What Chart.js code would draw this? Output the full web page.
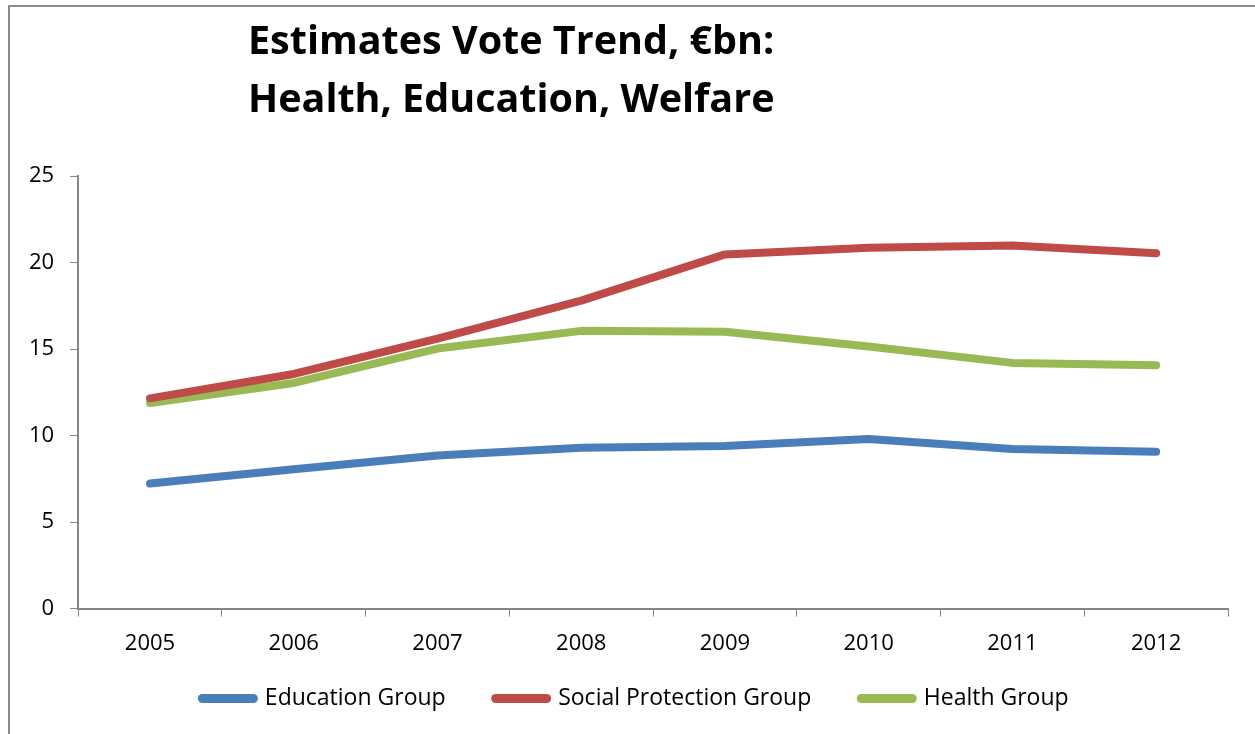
<!DOCTYPE html>
<html>
<head>
<meta charset="utf-8">
<script src="https://cdn.jsdelivr.net/npm/chart.js@4/dist/chart.umd.min.js"></script>
<style>
  html, body { margin: 0; padding: 0; background: #fff; }
  #wrap { position: relative; width: 1255px; height: 734px; overflow: hidden; }
  #frame { position: absolute; left: 8px; top: 5px; width: 1400px; height: 900px;
           border-left: 2px solid #8a8a8a; border-top: 2px solid #8a8a8a; }
  canvas { position: absolute; left: 0; top: 0; }
</style>
</head>
<body>
<div id="wrap">
  <div id="frame"></div>
  <canvas id="voteChart" width="1255" height="734"></canvas>
</div>
<script>
const years = ['2005', '2006', '2007', '2008', '2009', '2010', '2011', '2012'];
const education = [7.23, 8.05, 8.85, 9.3, 9.4, 9.8, 9.22, 9.07];
const socialProtection = [12.15, 13.56, 15.6, 17.8, 20.47, 20.85, 20.98, 20.54];
const health = [11.88, 13.04, 15.03, 16.05, 16.0, 15.15, 14.2, 14.07];
const titleLines = ['Estimates Vote Trend, €bn:', 'Health, Education, Welfare'];

const FONT = '"Open Sans", Lato, sans-serif';
const axisGrey = '#868686';
const xSqueeze = 34;   // legend padding is big, let it overlap the blank space under the years

// two-line bold title, upper left like the original
const titlePlugin = {
  id: 'leftTitle',
  afterDraw(chart) {
    const c = chart.ctx;
    c.save();
    c.fillStyle = '#000';
    c.font = 'bold 39.5px ' + FONT;
    c.textBaseline = 'alphabetic';
    c.fillText(titleLines[0], 248, 54);
    c.fillText(titleLines[1], 248, 112);
    c.restore();
  }
};

// undo the squeeze for label clipping, and nudge the legend row right a bit
const layoutTweaks = {
  id: 'layoutTweaks',
  afterLayout(chart) {
    chart.scales.x.bottom += xSqueeze;
    chart.legend.left += 15;
    chart.legend.right += 15;
  }
};

function line(label, data, color) {
  return {
    label: label,
    data: data,
    borderColor: color,
    backgroundColor: color,
    borderWidth: 8,
    borderCapStyle: 'round',
    borderJoinStyle: 'round',
    pointRadius: 0,
    pointHoverRadius: 0,
    tension: 0,
    fill: false
  };
}

new Chart(document.getElementById('voteChart'), {
  type: 'line',
  data: {
    labels: years,
    datasets: [
      line('Education Group', education, '#4a7ebb'),
      line('Social Protection Group', socialProtection, '#be4b48'),
      line('Health Group', health, '#98b954')
    ]
  },
  options: {
    responsive: false,
    animation: false,
    layout: { padding: { top: 176, left: 13, right: 27, bottom: 14 } },
    plugins: {
      title: { display: false },
      tooltip: { enabled: false },
      legend: {
        position: 'bottom',
        labels: {
          usePointStyle: true,
          pointStyle: 'line',
          pointStyleWidth: 51,
          font: { family: FONT, size: 23 },
          color: '#000',
          padding: 50,
          generateLabels(chart) {
            const items = Chart.defaults.plugins.legend.labels.generateLabels(chart);
            items.forEach(it => { it.lineCap = 'round'; it.lineWidth = 9; });
            return items;
          }
        }
      }
    },
    scales: {
      x: {
        offset: true,
        grid: { offset: true, drawOnChartArea: false, drawTicks: true, tickLength: 8, color: axisGrey },
        border: { color: axisGrey, width: 2 },
        ticks: { font: { family: FONT, size: 22 }, color: '#000', padding: 14 },
        afterFit(scale) { scale.height -= xSqueeze; }
      },
      y: {
        min: 0,
        max: 25,
        ticks: { stepSize: 5, font: { family: FONT, size: 22 }, color: '#000', padding: 16 },
        grid: { drawOnChartArea: false, drawTicks: true, tickLength: 8, color: axisGrey },
        border: { color: axisGrey, width: 2 }
      }
    }
  },
  plugins: [titlePlugin, layoutTweaks]
});
</script>
</body>
</html>
